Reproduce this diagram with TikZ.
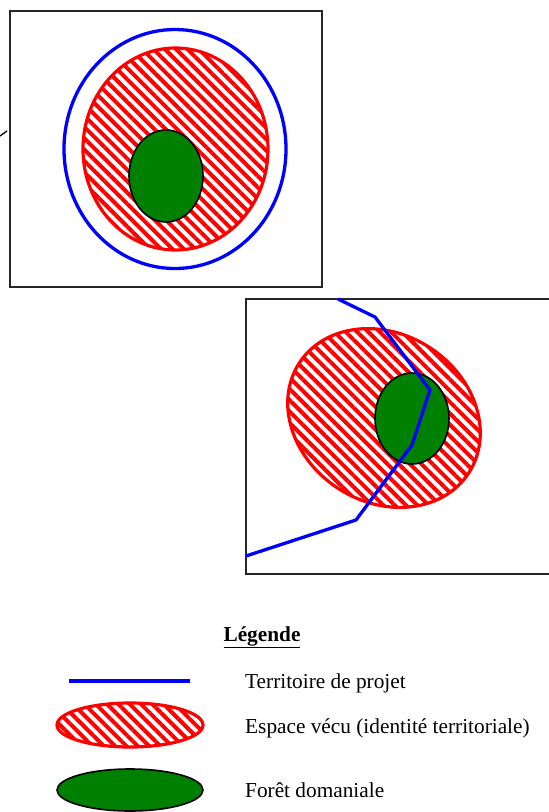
\documentclass[tikz,border=0pt]{standalone}
\usepackage{fontspec}
\setmainfont{Liberation Serif}
\usepackage{tikz}
\usetikzlibrary{patterns.meta}

\tikzset{
  cadre/.style={line width=1.6pt, black!85},
  territoire/.style={line width=3.3pt, blue, line join=round},
  espace/.style={line width=3.2pt, red, pattern={Lines[angle=-45,distance=8pt,line width=4pt]}, pattern color=red},
  foret/.style={line width=1.6pt, black, fill=green!50!black},
  legtext/.style={anchor=base west, inner sep=0pt, font=\fontsize{21.3}{25}\selectfont},
}

\begin{document}
\begin{tikzpicture}[x=1pt, y=-1pt]
  \useasboundingbox (0,0) rectangle (549,812);
  % top situation
  \draw[cadre] (10,11) rectangle (322,287);
  \draw[line width=1.3pt] (0,136) -- (7,131);
  \draw[territoire] (175,149) ellipse [x radius=111, y radius=119.5];
  \draw[espace] (175.5,149) ellipse [x radius=92.5, y radius=101];
  \draw[foret] (166,176) ellipse [x radius=37, y radius=46];
  % bottom situation
  \draw[cadre] (551,299) -- (246,299) -- (246,574) -- (551,574);
  \draw[espace, rotate around={-33:(384,418)}] (384,418) ellipse [x radius=101, y radius=84];
  \draw[foret] (412,418.5) ellipse [x radius=37, y radius=45.5];
  \draw[territoire] (338,299) -- (375,317) -- (430,390) -- (412,445) -- (356,520) -- (246,556);
  % legend
  \node[anchor=base, inner sep=0pt, font=\fontsize{21.3}{25}\selectfont] (legende) at (262,641) {\underline{\textbf{Légende}}};
  \draw[territoire] (69,681) -- (190,681);
  \node[legtext] (territ) at (245,688) {Territoire de projet};
  \draw[espace] (130,725) ellipse [x radius=73, y radius=22];
  \node[legtext] (vecu) at (245,733) {Espace vécu (identité territoriale)};
  \draw[foret] (130,790) ellipse [x radius=73, y radius=21];
  \node[legtext] (foret) at (245,797) {Forêt domaniale};
\end{tikzpicture}
\end{document}
